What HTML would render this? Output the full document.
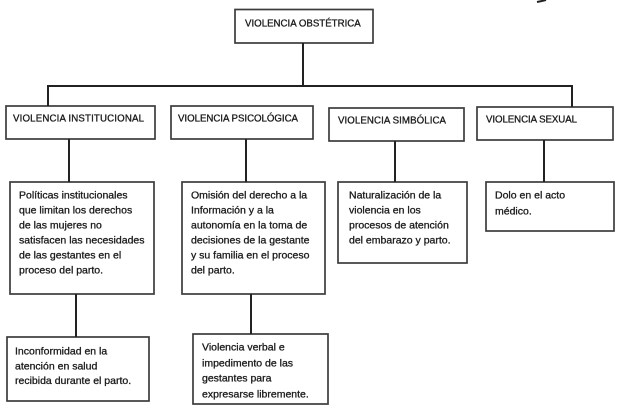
<!DOCTYPE html>
<html><head><meta charset="utf-8"><style>
html,body{margin:0;padding:0;background:#fff;}
svg{display:block;}
text{font-family:"Liberation Sans",sans-serif;fill:#1a1a1a;stroke:#1a1a1a;stroke-width:0.3;}
.h{font-size:9.7px;}
.t{font-size:10.5px;}
</style></head><body>
<svg width="624" height="409" viewBox="0 0 624 409" xmlns="http://www.w3.org/2000/svg">
<g fill="none" stroke="#3c3c3c" stroke-width="1.7">
<rect x="235" y="9.5" width="138" height="33.5"/>
<rect x="6" y="106" width="149" height="33"/>
<rect x="171" y="106" width="142" height="33"/>
<rect x="329" y="108" width="135" height="33"/>
<rect x="477" y="107" width="136" height="33"/>
<rect x="10" y="182" width="144" height="112"/>
<rect x="182" y="182" width="143" height="112"/>
<rect x="338" y="182" width="129" height="81"/>
<rect x="486" y="182" width="128" height="49"/>
<rect x="7" y="337" width="142" height="64"/>
<rect x="193" y="334" width="135" height="70"/>
</g>
<g fill="none" stroke="#222" stroke-width="2">
<line x1="303" y1="43" x2="303" y2="86"/>
<polyline points="48,106 48,86 572,86 572,107"/>
<line x1="69" y1="139" x2="69" y2="182"/>
<line x1="246" y1="139" x2="246" y2="182"/>
<line x1="395" y1="141" x2="395" y2="182"/>
<line x1="544" y1="140" x2="544" y2="182"/>
<line x1="76" y1="294" x2="76" y2="337"/>
<line x1="251" y1="294" x2="251" y2="334"/>
<path d="M537,2 Q542,1 546,0" stroke-width="2"/>
</g>
<text class="h" x="245" y="26.5">VIOLENCIA OBSTÉTRICA</text>
<text class="h" x="13" y="121.5" textLength="131">VIOLENCIA INSTITUCIONAL</text>
<text class="h" x="178" y="121.5" textLength="120">VIOLENCIA PSICOLÓGICA</text>
<text class="h" x="338" y="123.5" textLength="108">VIOLENCIA SIMBÓLICA</text>
<text class="h" x="486" y="122.5" textLength="91">VIOLENCIA SEXUAL</text>

<text class="t" x="19" y="198.5">Políticas institucionales</text>
<text class="t" x="19" y="213.5">que limitan los derechos</text>
<text class="t" x="19" y="228.5">de las mujeres no</text>
<text class="t" x="19" y="243.5">satisfacen las necesidades</text>
<text class="t" x="19" y="258.5">de las gestantes en el</text>
<text class="t" x="19" y="273.5">proceso del parto.</text>

<text class="t" x="191" y="198.5">Omisión del derecho a la</text>
<text class="t" x="191" y="213.5">Información y a la</text>
<text class="t" x="191" y="228.5">autonomía en la toma de</text>
<text class="t" x="191" y="243.5">decisiones de la gestante</text>
<text class="t" x="191" y="258.5">y su familia en el proceso</text>
<text class="t" x="191" y="273.5">del parto.</text>

<text class="t" x="349" y="198.5">Naturalización de la</text>
<text class="t" x="349" y="213.5">violencia en los</text>
<text class="t" x="349" y="228.5">procesos de atención</text>
<text class="t" x="349" y="243.5">del embarazo y parto.</text>

<text class="t" x="495" y="198.5">Dolo en el acto</text>
<text class="t" x="495" y="214.5">médico.</text>

<text class="t" x="15" y="354.5">Inconformidad en la</text>
<text class="t" x="15" y="369.5">atención en salud</text>
<text class="t" x="15" y="384">recibida durante el parto.</text>

<text class="t" x="202" y="350.5">Violencia verbal e</text>
<text class="t" x="202" y="366.5">impedimento de las</text>
<text class="t" x="202" y="381.5">gestantes para</text>
<text class="t" x="202" y="397.5">expresarse libremente.</text>
</svg>
</body></html>
